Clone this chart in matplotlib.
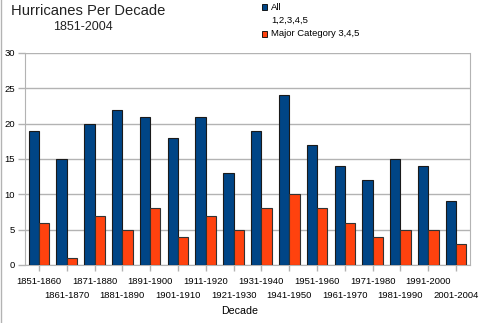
import matplotlib
matplotlib.use("Agg")
from matplotlib import pyplot as plt
from matplotlib.patches import Rectangle
import numpy as np

plt.rcParams['font.family'] = ['Liberation Sans', 'DejaVu Sans']

decades = ["1851-1860", "1861-1870", "1871-1880", "1881-1890", "1891-1900",
           "1901-1910", "1911-1920", "1921-1930", "1931-1940", "1941-1950",
           "1951-1960", "1961-1970", "1971-1980", "1981-1990", "1991-2000",
           "2001-2004"]
all_storms = [19, 15, 20, 22, 21, 18, 21, 13, 19, 24, 17, 14, 12, 15, 14, 9]
major = [6, 1, 7, 5, 8, 4, 7, 5, 8, 10, 8, 6, 4, 5, 5, 3]

blue = "#004586"
orange = "#ff420e"
grey = "#b3b3b3"

fig = plt.figure(figsize=(4.8, 3.23), dpi=100)
ax = fig.add_axes([25 / 480, 58 / 323, 445 / 480, 212 / 323])

x = np.arange(len(decades))
w = 0.37
ax.bar(x - w / 2, all_storms, w, color=blue, edgecolor="#1a1a1a", linewidth=0.8, zorder=3)
ax.bar(x + w / 2, major, w, color=orange, edgecolor="#333333", linewidth=0.8, zorder=3)

ax.set_xlim(-0.5, len(decades) - 0.5)
ax.set_ylim(0, 30)
ax.set_yticks(range(0, 31, 5))
ax.yaxis.grid(True, color=grey, linewidth=1, zorder=0)
for s in ax.spines.values():
    s.set_color(grey)
ax.spines['top'].set_visible(False)

ax.set_xticks(x)
ax.set_xticklabels(decades)
ax.tick_params(axis='both', colors=grey, length=5, width=1, labelsize=6.8, labelcolor="black")
ax.tick_params(axis='x', length=4, pad=5)
ax.tick_params(axis='y', pad=2)
for i, lab in enumerate(ax.get_xticklabels()):
    if i % 2:
        lab.set_y(-0.062)

fig.text(240 / 480, 1 - 311 / 323, "Decade", ha="center", va="center", fontsize=7.7)

# title
fig.text(88 / 480, 1 - 11 / 323, "Hurricanes Per Decade", ha="center", va="center",
         fontsize=10.6, color="#222222")
fig.text(83 / 480, 1 - 27 / 323, "1851-2004", ha="center", va="center",
         fontsize=9, color="#222222")

# legend
fig.patches.append(Rectangle((262 / 480, 1 - 10 / 323), 5 / 480, 6 / 323,
                             transform=fig.transFigure, facecolor=blue,
                             edgecolor="black", linewidth=0.6))
fig.patches.append(Rectangle((262 / 480, 1 - 37 / 323), 5 / 480, 6 / 323,
                             transform=fig.transFigure, facecolor=orange,
                             edgecolor="black", linewidth=0.6))
fig.text(271 / 480, 1 - 7 / 323, "All", va="center", fontsize=6.8)
fig.text(271 / 480, 1 - 20 / 323, "1,2,3,4,5", va="center", fontsize=6.8)
fig.text(271 / 480, 1 - 34 / 323, "Major Category 3,4,5", va="center", fontsize=6.8)

# left border line of the image
fig.add_artist(plt.Line2D([0.5 / 480, 0.5 / 480], [0, 1], color=grey, linewidth=1,
                          transform=fig.transFigure))

fig.savefig("out.png", dpi=100)
